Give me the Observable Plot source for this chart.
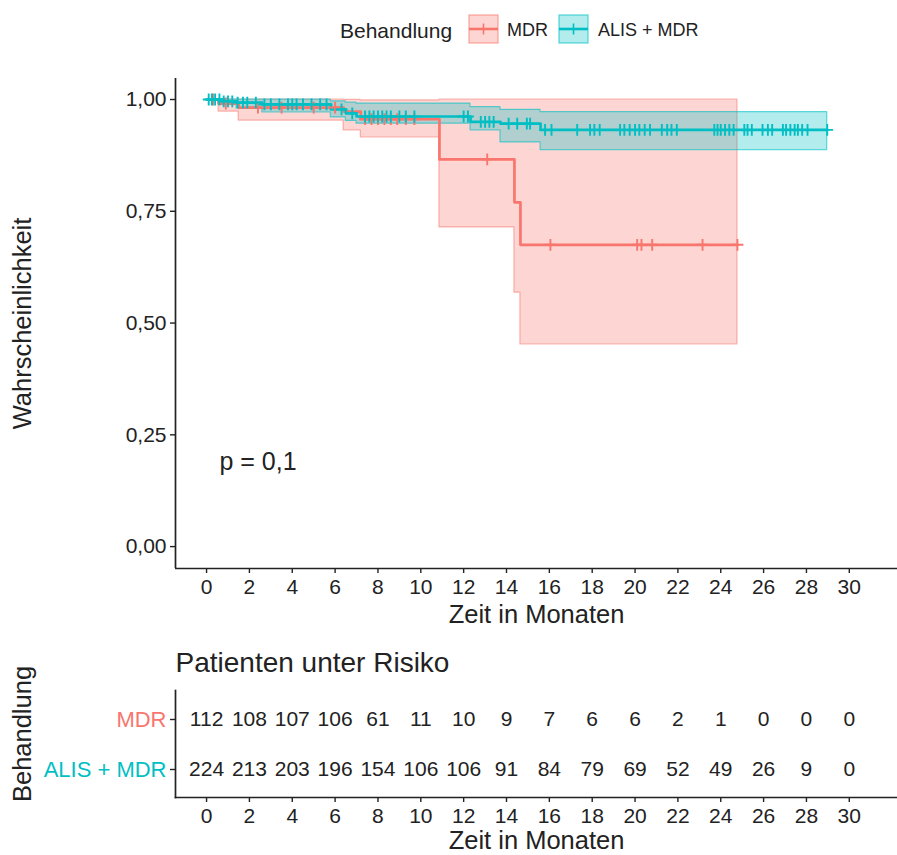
<!DOCTYPE html>
<html><head><meta charset="utf-8">
<script src="https://cdn.jsdelivr.net/npm/d3@7"></script>
<script src="https://cdn.jsdelivr.net/npm/@observablehq/plot@0.6"></script>
<style>
body{margin:0;background:#fff;font-family:"Liberation Sans",Arial,Helvetica,sans-serif;color:#222;}
#wrap{position:relative;width:897px;height:855px;overflow:hidden;background:#fff;}
.abs{position:absolute;white-space:nowrap;}
</style></head><body><div id="wrap"></div>
<script>
// ---------- data ----------
const groups = ["MDR", "ALIS + MDR"];
const groupColors = ["#F8766D", "#00BFC4"];
const legendTitle = "Behandlung";
const yTitle = "Wahrscheinlichkeit";
const xTitle = "Zeit in Monaten";
const riskTitle = "Patienten unter Risiko";
const pLabel = "p = 0,1";
const pX = 0.6, pY = 0.19;

const xTicks = [0,2,4,6,8,10,12,14,16,18,20,22,24,26,28,30];
const yTicks = [0, 0.25, 0.5, 0.75, 1];

// MDR survival steps
const mdrTime  = [0, 0.56, 1.5, 6.4, 7.2, 10.87, 14.37, 14.65, 24.78];
const mdrSurv  = [1, 0.991, 0.982, 0.973, 0.956, 0.866, 0.770, 0.675, 0.675];
const mdrLower = [1, 0.973, 0.953, 0.931, 0.915, 0.714, 0.568, 0.452, 0.452];
const mdrUpper = [1, 1, 1, 0.999, 0.998, 1, 1, 1, 1];
const mdrCensor = [0.3, 0.9, 2.4, 3.5, 5.0, 6.0, 7.4, 7.7, 8.0, 8.3, 8.6, 8.9, 9.3, 9.7,
  13.1, 16.05, 20.1, 20.3, 20.8, 23.15, 24.78];

// ALIS + MDR survival steps
const alisTime  = [0, 0.7, 1.4, 2.6, 5.8, 6.5, 7.0, 12.32, 13.72, 15.59, 28.97];
const alisSurv  = [1, 0.996, 0.993, 0.989, 0.978, 0.969, 0.962, 0.950, 0.946, 0.932, 0.932];
const alisLower = [1, 0.988, 0.980, 0.971, 0.960, 0.952, 0.946, 0.931, 0.904, 0.887, 0.887];
const alisUpper = [1, 1, 1, 1, 0.996, 0.993, 0.991, 0.983, 0.977, 0.972, 0.972];
const alisCensor = [0.1,0.25,0.4,0.6,0.8,1.0,1.2,1.45,1.7,1.9,2.3,2.7,3.0,3.4,3.8,4.0,4.2,4.5,4.9,5.3,5.6,
  6.3,6.8,7.4,7.6,7.8,8.0,8.2,8.4,8.6,9.0,9.3,9.7,
  12.0,12.2,12.8,13.0,13.2,13.4,14.1,14.5,14.95,15.1,15.8,16.1,17.3,17.9,18.1,18.35,
  19.3,19.5,19.75,20.0,20.2,20.45,20.7,21.25,21.5,21.7,21.95,23.7,23.85,24.0,24.2,24.4,24.6,
  25.1,25.25,25.45,25.95,26.2,26.4,26.9,27.05,27.25,27.45,27.6,27.8,28.05,28.97];

// Risk table
const riskTimes = [0,2,4,6,8,10,12,14,16,18,20,22,24,26,28,30];
const riskMDR  = [112,108,107,106,61,11,10,9,7,6,6,2,1,0,0,0];
const riskALIS = [224,213,203,196,154,106,106,91,84,79,69,52,49,26,9,0];

// ---------- helpers ----------
const RED = groupColors[0], TEAL = groupColors[1];
const FONT = '"Liberation Sans", Arial, Helvetica, sans-serif';
const xDomain = [-1.45, 32.25];
const yDomain = [-0.049, 1.047];
const fmt = d => d.toFixed(2).replace(".", ",");
const steps = (t, s, lo, hi) => t.map((v, i) => ({t: v, s: s[i], lo: lo[i], hi: hi[i]}));
const survAt = (times, s, t) => { let v = s[0]; for (let i = 0; i < times.length; i++) if (times[i] <= t) v = s[i]; return v; };
const mdr = steps(mdrTime, mdrSurv, mdrLower, mdrUpper);
const alis = steps(alisTime, alisSurv, alisLower, alisUpper);
const riskRows = riskTimes.flatMap((t, i) => [
  {t, g: groups[0], n: riskMDR[i]},
  {t, g: groups[1], n: riskALIS[i]}
]);

const wrap = document.getElementById("wrap");

// ---------- main KM plot ----------
const main = Plot.plot({
  width: 897, height: 640,
  marginLeft: 175, marginRight: 0, marginTop: 78, marginBottom: 72,
  x: {domain: xDomain},
  y: {domain: yDomain},
  style: {fontFamily: FONT, fontSize: "21px", color: "#222", background: "transparent", overflow: "visible"},
  marks: [
    Plot.areaY(mdr, {x: "t", y1: "lo", y2: "hi", curve: "step-after", fill: RED, fillOpacity: 0.3, stroke: RED, strokeOpacity: 0.55, strokeWidth: 1.2}),
    Plot.areaY(alis, {x: "t", y1: "lo", y2: "hi", curve: "step-after", fill: TEAL, fillOpacity: 0.3, stroke: TEAL, strokeOpacity: 0.6, strokeWidth: 1.2}),
    Plot.lineY(mdr, {x: "t", y: "s", curve: "step-after", stroke: RED, strokeWidth: 2.7}),
    Plot.lineY(alis, {x: "t", y: "s", curve: "step-after", stroke: TEAL, strokeWidth: 2.7}),
    Plot.dot(mdrCensor, {x: d => d, y: d => survAt(mdrTime, mdrSurv, d), symbol: "plus", r: 3.9, stroke: RED, strokeWidth: 1.9}),
    Plot.dot(alisCensor, {x: d => d, y: d => survAt(alisTime, alisSurv, d), symbol: "plus", r: 3.9, stroke: TEAL, strokeWidth: 1.9}),
    Plot.axisX({ticks: xTicks, tickFormat: d => String(d), tickSize: 5, tickPadding: 6, label: null, fontSize: 21, strokeWidth: 1.4}),
    Plot.axisY({ticks: yTicks, tickFormat: fmt, tickSize: 5, tickPadding: 4, label: null, fontSize: 21, strokeWidth: 1.4}),
    Plot.ruleX([xDomain[0]], {stroke: "#222", strokeWidth: 1.7}),
    Plot.ruleY([yDomain[0]], {stroke: "#222", strokeWidth: 1.7}),
    Plot.text([xTitle], {text: d => d, frameAnchor: "bottom", lineAnchor: "middle", textAnchor: "middle", dy: 46, fontSize: 25.5, fill: "#222"}),
    Plot.text([yTitle], {text: d => d, frameAnchor: "left", lineAnchor: "middle", textAnchor: "middle", dx: -153, rotate: -90, fontSize: 25.5, fill: "#222"}),
    Plot.text([pLabel], {text: d => d, x: d => pX, y: d => pY, textAnchor: "start", fontSize: 25, fill: "#222"})
  ]
});
main.style.position = "absolute"; main.style.left = "0px"; main.style.top = "0px";
wrap.appendChild(main);

// ---------- risk table ----------
const risk = Plot.plot({
  width: 897, height: 215,
  marginLeft: 175, marginRight: 0, marginTop: 50, marginBottom: 58,
  x: {domain: xDomain},
  y: {type: "point", domain: groups, padding: 0.55},
  style: {fontFamily: FONT, fontSize: "21px", color: "#222", background: "transparent", overflow: "visible"},
  marks: [
    Plot.text(riskRows, {x: "t", y: "g", text: d => String(d.n), fontSize: 21, fill: "#222"}),
    Plot.axisX({ticks: xTicks, tickFormat: d => String(d), tickSize: 5, tickPadding: 6, label: null, fontSize: 21, strokeWidth: 1.4}),
    Plot.axisY({tickSize: 5, tickFormat: () => "", label: null, strokeWidth: 1.4}),
    Plot.frame({anchor: "bottom", stroke: "#222", strokeWidth: 1.7}),
    Plot.frame({anchor: "left", stroke: "#222", strokeWidth: 1.7}),
    ...groups.map((g, i) => Plot.text([g], {text: d => d, y: d => d, frameAnchor: "left", textAnchor: "end", dx: -9, fontSize: 22, fill: groupColors[i]})),
    Plot.text([riskTitle], {text: d => d, frameAnchor: "top-left", lineAnchor: "middle", dy: -27, textAnchor: "start", fontSize: 28, fill: "#222"}),
    Plot.text([xTitle], {text: d => d, frameAnchor: "bottom", lineAnchor: "middle", textAnchor: "middle", dy: 43, fontSize: 25.5, fill: "#222"}),
    Plot.text([legendTitle], {text: d => d, frameAnchor: "left", lineAnchor: "middle", textAnchor: "middle", dx: -153, dy: -10, rotate: -90, fontSize: 25.5, fill: "#222"})
  ]
});
risk.style.position = "absolute"; risk.style.left = "0px"; risk.style.top = "640px";
wrap.appendChild(risk);

// ---------- legend ----------
function addText(txt, left, cy, size) {
  const d = document.createElement("div");
  d.className = "abs";
  d.textContent = txt;
  d.style.left = left + "px";
  d.style.top = (cy - size / 2) + "px";
  d.style.fontSize = size + "px";
  d.style.lineHeight = size + "px";
  d.style.color = "#222";
  wrap.appendChild(d);
}
function addKey(color, left, top) {
  const ns = "http://www.w3.org/2000/svg";
  const s = document.createElementNS(ns, "svg");
  s.setAttribute("width", 32); s.setAttribute("height", 31);
  s.style.position = "absolute"; s.style.left = left + "px"; s.style.top = top + "px";
  s.innerHTML = `<rect x="1" y="1" width="29" height="28" fill="${color}" fill-opacity="0.3" stroke="${color}" stroke-opacity="0.6" stroke-width="1.3"/>
    <line x1="1" x2="30" y1="15" y2="15" stroke="${color}" stroke-width="2.6"/>
    <line x1="15.5" x2="15.5" y1="9.5" y2="20.5" stroke="${color}" stroke-width="1.6"/>
    <line x1="11" x2="20" y1="15" y2="15" stroke="${color}" stroke-width="1.6"/>`;
  wrap.appendChild(s);
}
addText(legendTitle, 340, 30, 21);
addKey(RED, 468, 14);
addText(groups[0], 507, 30, 18);
addKey(TEAL, 558, 14);
addText(groups[1], 598, 30, 18);
</script></body></html>
